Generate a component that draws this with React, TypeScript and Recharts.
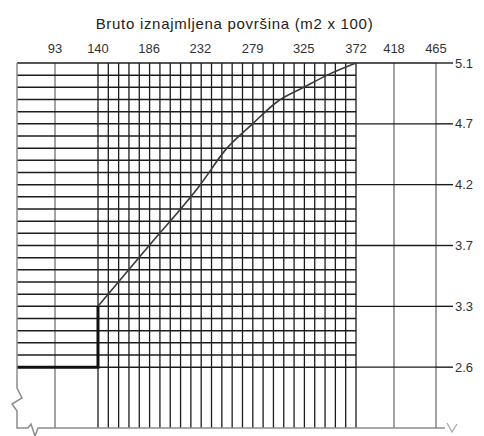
import { LineChart, Line, XAxis, YAxis, ReferenceLine } from 'recharts';

// top axis labels (m2 x 100) and right axis labels (m)
const X_LABELS = [93, 140, 186, 232, 279, 325, 372, 418, 465];
const Y_LABELS = [2.6, 3.3, 3.7, 4.2, 4.7, 5.1];

// stepped start of the curve
const STEP_X = [46.5, 140, 140];
const STEP_Y = [2.6, 2.6, 3.3];

// main curve
const CURVE_X = [140, 186, 232, 255, 279, 302, 325, 349, 372];
const CURVE_Y = [3.3, 3.7, 4.2, 4.49, 4.7, 4.85, 4.94, 5.03, 5.1];

// fine grid: every 100 sq ft (9.28 m2) between 140 and 372, 25 rows between 2.6 and 5.1
const GRID_FROM = 140;
const GRID_STEP = 9.28;
const GRID_COLS = 26;
const GRID_ROWS = 26;

// the drawing is not linear: piecewise axis layout
const X_KNOTS = [46.5, 93, 140, 372, 418, 465];
const X_POS = [0, 0.0907, 0.1933, 0.8091, 0.8998, 1];
const Y_POS = [0, 5, 10, 15, 20, 25];

function interp(v: number, from: number[], to: number[]) {
  let i = 0;
  while (i < from.length - 2 && v > from[i + 1]) i++;
  const t = (v - from[i]) / (from[i + 1] - from[i]);
  return to[i] + t * (to[i + 1] - to[i]);
}
const wx = (v: number) => interp(v, X_KNOTS, X_POS);
const wy = (v: number) => interp(v, Y_LABELS, Y_POS);

const stepData = STEP_X.map((x, i) => ({ x: wx(x), y: wy(STEP_Y[i]) }));
const curveData = CURVE_X.map((x, i) => ({ x: wx(x), y: wy(CURVE_Y[i]) }));

const font = '"Liberation Sans", Arial, sans-serif';
const DARK = '#1c1c1c';
const GRAY = '#8c8c8c';

// frame with break marks, drawn over the chart
function Frame() {
  return (
    <svg width={484} height={436} style={{ position: 'absolute', left: 0, top: 0, pointerEvents: 'none' }}>
      <path
        d="M17,63 L17,388 L22,398 L12,404 L17,411 L17,428 L28,428 L31,424 L35,436 L38,428 L445,428"
        fill="none"
        stroke={GRAY}
        strokeWidth={1.5}
      />
      <path d="M447,423 L452,432 L457,424" fill="none" stroke="#aaa" strokeWidth={1.3} />
    </svg>
  );
}

export default function App() {
  const gridCols = Array.from({ length: GRID_COLS }, (_, k) => wx(GRID_FROM + k * GRID_STEP));
  const gridRows = Array.from({ length: GRID_ROWS }, (_, k) => k);
  const right = wx(372);

  return (
    <div style={{ position: 'absolute', left: 0, top: 0, width: 484, height: 436, background: '#fff', fontFamily: font }}>
      <div
        style={{
          position: 'absolute',
          left: 0,
          width: 469,
          top: 15,
          textAlign: 'center',
          fontSize: 15,
          letterSpacing: 0.7,
          color: '#222',
        }}
      >
        Bruto iznajmljena površina (m2 x 100)
      </div>
      <LineChart width={484} height={436} margin={{ top: 0, right: 0, bottom: 8, left: 17 }}>
        <XAxis
          xAxisId={0}
          type="number"
          dataKey="x"
          orientation="top"
          domain={[0, 1]}
          ticks={X_LABELS.map(wx)}
          tickFormatter={(_v: number, i: number) => String(X_LABELS[i])}
          height={63}
          axisLine={false}
          tickLine={false}
          tickSize={6}
          tickMargin={4}
          interval={0}
          tick={{ fill: '#333', fontSize: 13, fontFamily: font }}
        />
        <YAxis
          yAxisId={0}
          type="number"
          orientation="right"
          domain={[-5, 25]}
          ticks={Y_POS}
          tickFormatter={(_v: number, i: number) => Y_LABELS[i].toFixed(1)}
          width={48}
          axisLine={false}
          tickLine={{ stroke: DARK, strokeWidth: 1.4 }}
          tickSize={17}
          tickMargin={2}
          interval={0}
          tick={{ fill: '#333', fontSize: 13, fontFamily: font }}
        />
        {[93, 418, 465].map((v) => (
          <ReferenceLine key={`g${v}`} segment={[{ x: wx(v), y: 25 }, { x: wx(v), y: -5 }]} stroke={GRAY} strokeWidth={1.6} ifOverflow="visible" />
        ))}
        {/* fine grid */}
        {gridCols.map((x, k) => (
          <ReferenceLine key={`c${k}`} segment={[{ x, y: 25 }, { x, y: -5 }]} stroke={DARK} strokeWidth={1.3} ifOverflow="visible" />
        ))}
        {gridRows.map((y) => (
          <ReferenceLine key={`r${y}`} segment={[{ x: 0, y }, { x: right, y }]} stroke={DARK} strokeWidth={1.5} ifOverflow="visible" />
        ))}
        {Y_POS.map((y) => (
          <ReferenceLine key={`l${y}`} segment={[{ x: right, y }, { x: 1, y }]} stroke={DARK} strokeWidth={1.4} ifOverflow="visible" />
        ))}
        <Line data={stepData} dataKey="y" type="linear" stroke="#111" strokeWidth={3} dot={false} isAnimationActive={false} />
        <Line data={curveData} dataKey="y" type="monotone" stroke="#3a3a3a" strokeWidth={1.6} dot={false} isAnimationActive={false} />
      </LineChart>
      <Frame />
    </div>
  );
}
